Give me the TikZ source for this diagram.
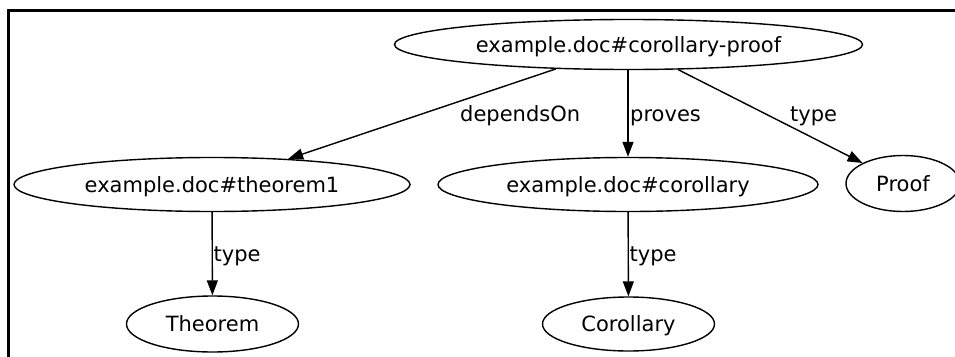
\documentclass[tikz,border=0pt]{standalone}
\usepackage{fontspec}
\setmainfont{DejaVu Sans}
\usetikzlibrary{shapes.geometric,arrows.meta}
\begin{document}
\begin{tikzpicture}[x=1pt,y=-1pt,
  ell/.style={draw=black,line width=1.4pt,ellipse,inner sep=0pt,
    font=\fontsize{21}{25}\selectfont,text height=15pt,text depth=0pt},
  lbl/.style={inner sep=0pt,anchor=base west,font=\fontsize{21}{25}\selectfont},
  edge/.style={draw=black,line width=1.4pt,-{Triangle[length=15pt,width=11pt]}}]
\useasboundingbox (0,0) rectangle (955,356);
\clip (0,0) rectangle (955,356);
\fill[white] (0,0) rectangle (955,356);
\draw[line width=3pt] (8.3,400) -- (8.3,10.5) -- (1000,10.5);
\node[ell,minimum width=468pt,minimum height=50pt] (cp) at (628.5,44.5) {example.doc\#corollary-proof};
\node[ell,minimum width=396pt,minimum height=54pt] (t1) at (212,184.5) {example.doc\#theorem1};
\node[ell,minimum width=380pt,minimum height=54pt] (co) at (628,184.5) {example.doc\#corollary};
\node[ell,minimum width=114pt,minimum height=56pt] (pf) at (903,183.5) {Proof};
\node[ell,minimum width=172pt,minimum height=56pt] (th) at (212.5,324) {Theorem};
\node[ell,minimum width=172pt,minimum height=54pt] (cl) at (628.5,324) {Corollary};
\draw[edge] (cp) -- (t1);
\draw[edge] (cp.south -| co.north) -- (co.north);
\draw[edge] (cp) -- (pf);
\draw[edge] (t1) -- (th);
\draw[edge] (co) -- (cl);
\node[lbl] (l1) at (460,121) {dependsOn};
\node[lbl] (l2) at (630,121) {proves};
\node[lbl] (l3) at (790,121) {type};
\node[lbl] (l4) at (213.5,261) {type};
\node[lbl] (l5) at (629.5,261) {type};
\end{tikzpicture}
\end{document}
